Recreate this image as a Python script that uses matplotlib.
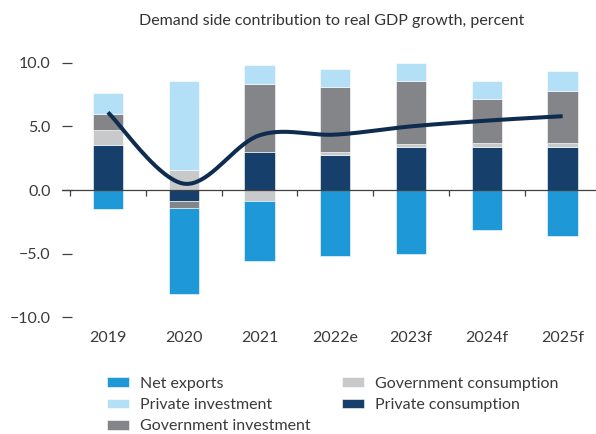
import numpy as np
import matplotlib
matplotlib.use("Agg")
import matplotlib.pyplot as plt

plt.rcParams["font.family"] = ["Lato", "DejaVu Sans"]

years = ["2019", "2020", "2021", "2022e", "2023f", "2024f", "2025f"]

# contributions, percentage points
private_consumption = [3.5, -0.85, 2.95, 2.75, 3.35, 3.35, 3.35]
government_consumption = [1.2, 1.6, -0.85, 0.25, 0.25, 0.35, 0.35]
government_investment = [1.25, -0.6, 5.35, 5.1, 4.95, 3.45, 4.1]
private_investment = [1.65, 7.0, 1.5, 1.4, 1.4, 1.4, 1.55]
net_exports = [-1.5, -6.7, -4.7, -5.15, -5.0, -3.15, -3.6]
gdp_growth = [6.1, 0.5, 4.3, 4.35, 5.0, 5.45, 5.8]

# stacking order from zero outward
series = [
    ("Private consumption", private_consumption, "#163f6b"),
    ("Government consumption", government_consumption, "#c8c9cb"),
    ("Government investment", government_investment, "#838589"),
    ("Private investment", private_investment, "#b3e0f7"),
    ("Net exports", net_exports, "#1e98d7"),
]
legend_order = ["Net exports", "Private investment", "Government investment",
                "Government consumption", "Private consumption"]


def smooth(xs, ys, n=40):
    # excel style smoothed line (bezier through the points)
    pts = np.column_stack([xs, ys]).astype(float)
    out = []
    for i in range(len(pts) - 1):
        p0 = pts[i - 1] if i > 0 else pts[i]
        p1 = pts[i]
        p2 = pts[i + 1]
        p3 = pts[i + 2] if i + 2 < len(pts) else pts[i + 1]
        c1 = p1 + (p2 - p0) / 6
        c2 = p2 - (p3 - p1) / 6
        t = np.linspace(0, 1, n)[:, None]
        seg = (1 - t) ** 3 * p1 + 3 * (1 - t) ** 2 * t * c1 + 3 * (1 - t) * t ** 2 * c2 + t ** 3 * p2
        out.append(seg if i == 0 else seg[1:])
    return np.vstack(out)


fig = plt.figure(figsize=(5.96, 4.34), dpi=100)
ax = fig.add_axes([0.1035, 0.2601, 0.8965, 0.6042])

x = np.arange(len(years))
pos = np.zeros(len(years))
neg = np.zeros(len(years))
handles = {}
for name, vals, color in series:
    vals = np.array(vals)
    bottom = np.where(vals >= 0, pos, neg)
    h = ax.bar(x, vals, width=0.4, bottom=bottom, color=color,
               edgecolor="white", linewidth=0.4, label=name, zorder=2)
    handles[name] = h
    pos = pos + np.where(vals >= 0, vals, 0)
    neg = neg + np.where(vals < 0, vals, 0)

curve = smooth(x, gdp_growth)
ax.plot(curve[:, 0], curve[:, 1], color="#0e2c4f", lw=2.9,
        solid_capstyle="butt", zorder=4)

ax.axhline(0, color="#404040", lw=0.9, zorder=3)
bounds = np.arange(len(years)) - 0.5
ax.vlines(bounds, -0.45, 0, color="#404040", lw=0.9, zorder=3)

ax.set_xlim(-0.61, 6.44)
ax.set_ylim(-10.3, 10.3)
ax.set_yticks([-10, -5, 0, 5, 10])
ax.set_yticklabels(["\u221210.0", "\u22125.0", "0.0", "5.0", "10.0"])
ax.tick_params(axis="y", direction="in", length=7.5, width=0.9,
               color="#404040", pad=8, labelsize=11.5, labelcolor="#3a3a3a")
ax.set_xticks(x)
ax.set_xticklabels(years)
ax.tick_params(axis="x", length=0, pad=7, labelsize=11.5, labelcolor="#3a3a3a")
for s in ax.spines.values():
    s.set_visible(False)

fig.text(0.557, 0.951, "Demand side contribution to real GDP growth, percent",
         ha="center", va="center", fontsize=11.5, color="#333333")

fig.legend([handles[n] for n in legend_order], legend_order,
           loc="upper left", bbox_to_anchor=(107 / 596, 1 - 377 / 434),
           ncol=2, frameon=False, fontsize=11.5, handlelength=1.375,
           handleheight=0.56, handletextpad=0.67, columnspacing=2.0,
           labelspacing=0.45, borderpad=0, borderaxespad=0,
           labelcolor="#3a3a3a")

fig.savefig("out.png", dpi=100)
